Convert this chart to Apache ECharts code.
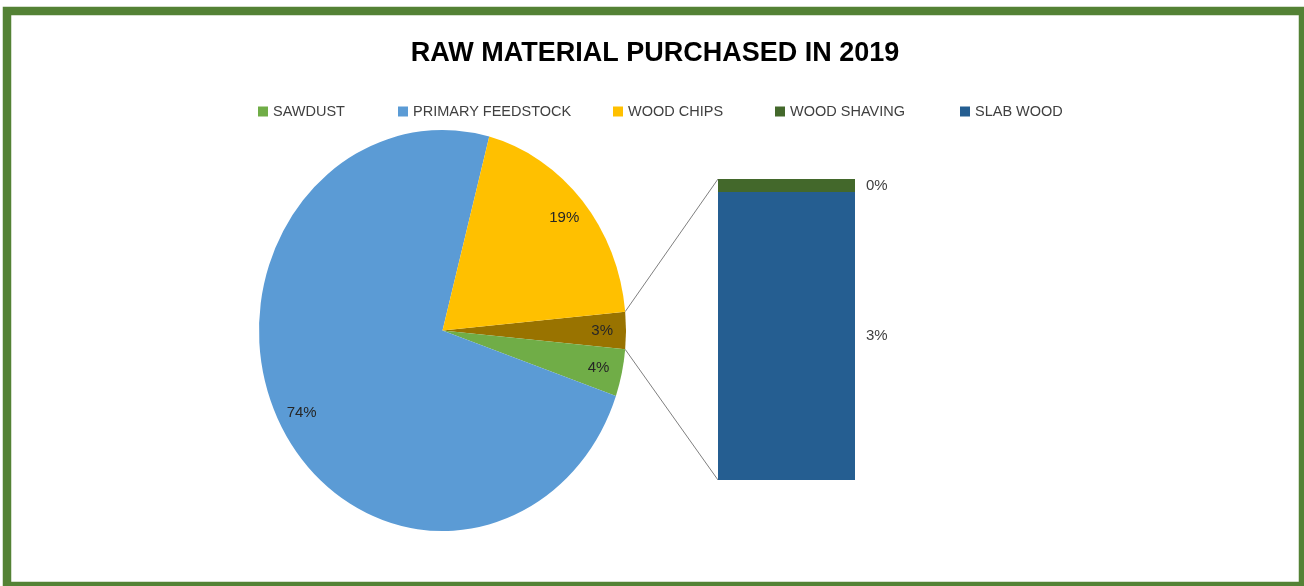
<!DOCTYPE html>
<html>
<head>
<meta charset="utf-8">
<script src="https://cdn.jsdelivr.net/npm/echarts@6/dist/echarts.min.js"></script>
<style>
  html, body { margin: 0; padding: 0; background: #fff; }
  #chart { width: 1304px; height: 586px; }
</style>
</head>
<body>
<div id="chart"></div>
<script>
// values in percent of total purchase
const pieNames = ['OTHER', 'SAWDUST', 'PRIMARY FEEDSTOCK', 'WOOD CHIPS'];
const pieMain = [3.8, 73.8, 19.4];          // sawdust, primary feedstock, wood chips
const barNames = ['SLAB WOOD', 'WOOD SHAVING'];
const barValues = [2.87, 0.13];             // split of the "other" slice
const legendNames = ['SAWDUST', 'PRIMARY FEEDSTOCK', 'WOOD CHIPS', 'WOOD SHAVING', 'SLAB WOOD'];

const colors = {
  'OTHER': '#997300',
  'SAWDUST': '#70ad47',
  'PRIMARY FEEDSTOCK': '#5b9bd5',
  'WOOD CHIPS': '#ffc000',
  'WOOD SHAVING': '#43682b',
  'SLAB WOOD': '#255e91'
};

const FONT = 'Liberation Sans, Arial, sans-serif';
const otherTotal = barValues.reduce((a, b) => a + b, 0);
const pieValues = [otherTotal].concat(pieMain);
const total = pieValues.reduce((a, b) => a + b, 0);

// slice angles (radians, screen coords, clockwise); "other" slice centred at 3 o'clock
const half = otherTotal / total * Math.PI;
const sliceStart = [];
const sliceEnd = [];
let acc = -half;
pieValues.forEach(v => {
  sliceStart.push(acc);
  acc += v / total * Math.PI * 2;
  sliceEnd.push(acc);
});

// the pie in the source is slightly stretched vertically
const cx = 442.5, cy = 330.5, rx = 183.5, ry = 200.5;
const labelR = 0.87;
const barGrid = { left: 718, top: 179, width: 137, height: 301 };
const legendLeft = [258, 398, 613, 775, 960];

const chart = echarts.init(document.getElementById('chart'));

const pieSeries = pieNames.map((n, i) => ({
  type: 'custom',
  name: n,
  coordinateSystem: 'none',
  silent: true,
  itemStyle: { color: colors[n] },
  data: [pieValues[i]],
  renderItem: (params, api) => {
    const v = api.value(0);
    const s = sliceStart[i], e = sliceEnd[i], mid = (s + e) / 2;
    return {
      type: 'group',
      children: [
        {
          type: 'sector',
          x: cx, y: cy, scaleY: ry / rx,
          shape: { cx: 0, cy: 0, r0: 0, r: rx, startAngle: s, endAngle: e, clockwise: true },
          style: { fill: colors[n] }
        },
        {
          type: 'text',
          x: cx + labelR * rx * Math.cos(mid),
          y: cy + labelR * ry * Math.sin(mid),
          style: {
            text: Math.round(v / total * 100) + '%',
            align: 'center', verticalAlign: 'middle',
            fontFamily: FONT, fontSize: 15, fill: '#262626'
          }
        }
      ]
    };
  }
}));

const barSeries = barNames.map((n, i) => ({
  type: 'bar',
  name: n,
  stack: 'other',
  barWidth: '100%',
  itemStyle: { color: colors[n] },
  label: {
    show: true,
    position: 'right',
    distance: 11,
    fontFamily: FONT,
    fontSize: 15,
    color: '#404040',
    formatter: p => Math.round(p.value / total * 100) + '%'
  },
  emphasis: { disabled: true },
  data: [barValues[i]]
}));

const option = {
  animation: false,
  backgroundColor: '#fff',
  title: {
    text: 'RAW MATERIAL PURCHASED IN 2019',
    left: 655,
    top: 40,
    padding: 0,
    textAlign: 'center',
    textStyle: { fontFamily: FONT, fontWeight: 'bold', fontSize: 27, color: '#000' }
  },
  legend: legendNames.map((n, i) => ({
    data: [n],
    left: legendLeft[i],
    top: 104,
    padding: 0,
    itemWidth: 10,
    itemHeight: 10,
    itemGap: 0,
    icon: 'rect',
    selectedMode: false,
    textStyle: { fontFamily: FONT, fontSize: 14.5, color: '#404040' }
  })),
  grid: {
    left: barGrid.left, top: barGrid.top, width: barGrid.width, height: barGrid.height
  },
  xAxis: { type: 'category', data: ['OTHER'], show: false },
  yAxis: { type: 'value', min: 0, max: otherTotal, show: false },
  series: pieSeries.concat(barSeries)
};

chart.setOption(option);

// connector lines from the "other" slice to the bar
const px = cx + rx * Math.cos(half);
const pyTop = cy - ry * Math.sin(half);
const pyBot = cy + ry * Math.sin(half);
const barTop = chart.convertToPixel({ gridIndex: 0 }, [0, otherTotal]);
const barBot = chart.convertToPixel({ gridIndex: 0 }, [0, 0]);
const bx = barGrid.left;

chart.setOption({
  graphic: [
    {
      type: 'rect',
      shape: { x: 7, y: 11, width: 1296, height: 575 },
      style: { fill: 'none', stroke: '#548235', lineWidth: 8.5 },
      silent: true
    },
    {
      type: 'line',
      shape: { x1: px, y1: pyTop, x2: bx, y2: barTop[1] },
      style: { stroke: '#7f7f7f', lineWidth: 1 },
      silent: true
    },
    {
      type: 'line',
      shape: { x1: px, y1: pyBot, x2: bx, y2: barBot[1] },
      style: { stroke: '#7f7f7f', lineWidth: 1 },
      silent: true
    }
  ]
});
</script>
</body>
</html>
